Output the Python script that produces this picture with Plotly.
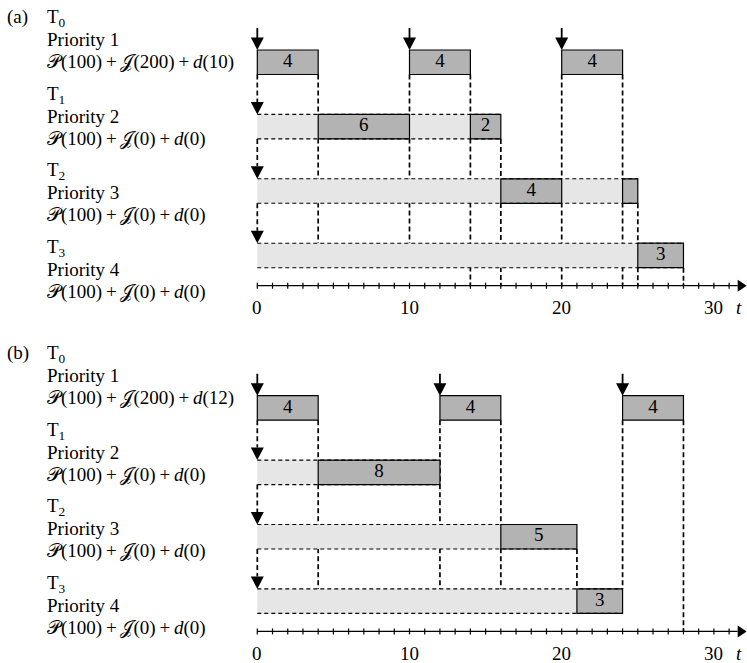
import plotly.graph_objects as go

# ---------------- task set ----------------
tasks = ["T0", "T1", "T2", "T3"]
priorities = [1, 2, 3, 4]
periods = [100, 100, 100, 100]
jitters = [200, 0, 0, 0]
deadlines_a = [10, 0, 0, 0]
deadlines_b = [12, 0, 0, 0]

# release instants of T0 (the other tasks are released at t = 0)
t0_releases_a = [0, 10, 20]
t0_releases_b = [0, 12, 24]

# execution intervals (start, end) of every task, scenario (a)
exec_a_t0 = [(0, 4), (10, 14), (20, 24)]
exec_a_t1 = [(4, 10), (14, 16)]
exec_a_t2 = [(16, 20), (24, 25)]
exec_a_t3 = [(25, 28)]

# execution intervals (start, end) of every task, scenario (b)
exec_b_t0 = [(0, 4), (12, 16), (24, 28)]
exec_b_t1 = [(4, 12)]
exec_b_t2 = [(16, 21)]
exec_b_t3 = [(21, 24)]

# dashed event guides: (time, row whose bar they leave, row they reach; 4 = time axis)
guides_a = [(4, 0, 3), (10, 0, 3), (14, 0, 4), (16, 1, 4),
            (20, 0, 4), (24, 0, 4), (25, 2, 4), (28, 3, 4)]
guides_b = [(4, 0, 3), (12, 0, 3), (16, 0, 3), (21, 2, 3),
            (24, 0, 3), (28, 0, 4)]

time_ticks = list(range(0, 32))
tick_labels = [0, 10, 20, 30]

# ---------------- geometry / style ----------------
W, H = 747, 663
PX_T = 15.22          # pixels per time unit
ORIGIN_PX = 257.3     # pixel column of t = 0
ROW_PX = 64.4         # pixels between two task rows
BAR = 24.5 / ROW_PX   # bar thickness in row units
AXIS_ROW = 3.66       # time axis position in row units
TOP_PX = 50.0         # distance from panel top to first bar
PANEL_PX = 317.3
ARROW_H = 12.5 / ROW_PX
ARROW_HW = 6.5 / PX_T

EXEC_FILL = "#b3b3b3"
WAIT_FILL = "#e6e6e6"
FONT = "Liberation Serif"
FS = 19

x_range = [-ORIGIN_PX / PX_T, (W - ORIGIN_PX) / PX_T]
y_range = [(PANEL_PX - TOP_PX) / ROW_PX, -TOP_PX / ROW_PX]

fig = go.Figure()
shapes = []
annotations = []


def add_panel(xa, ya, rows, releases, guides):
    xref, yref = xa, ya
    # dashed event guides (under the bars)
    for t, r_from, r_to in guides:
        y0 = r_from + BAR
        y1 = AXIS_ROW if r_to == 4 else r_to
        shapes.append(dict(type="line", layer="below", xref=xref, yref=yref,
                           x0=t, x1=t, y0=y0, y1=y1,
                           line=dict(color="black", width=1.7, dash="5px,3px")))
    # waiting (ready but not running) spans of lower priority tasks
    for k, segs in enumerate(rows):
        if k == 0:
            continue
        end = max(e for _, e in segs)
        fig.add_trace(go.Bar(orientation="h", y=[k + BAR / 2], x=[end], base=[0],
                             width=BAR, marker=dict(color=WAIT_FILL, line=dict(width=0)),
                             textposition="none",
                             xaxis=xa, yaxis=ya, hoverinfo="skip", showlegend=False))
        for yy in (k, k + BAR):
            shapes.append(dict(type="line", layer="above", xref=xref, yref=yref,
                               x0=0, x1=end, y0=yy, y1=yy,
                               line=dict(color="black", width=1.1, dash="4px,3px")))
        # dashed release arrow at t = 0
        shapes.append(dict(type="line", layer="below", xref=xref, yref=yref,
                           x0=0, x1=0, y0=k - 1 + BAR, y1=k - ARROW_H,
                           line=dict(color="black", width=1.7, dash="5px,3px")))
        shapes.append(dict(type="path", layer="above", xref=xref, yref=yref,
                           path=f"M{-ARROW_HW},{k - ARROW_H} L{ARROW_HW},{k - ARROW_H} L0,{k} Z",
                           fillcolor="black", line=dict(width=0)))
    # execution bars
    for k, segs in enumerate(rows):
        starts = [s for s, _ in segs]
        lens = [e - s for s, e in segs]
        fig.add_trace(go.Bar(orientation="h", y=[k + BAR / 2] * len(segs), x=lens, base=starts,
                             width=BAR, textposition="none",
                             marker=dict(color=EXEC_FILL, line=dict(color="black", width=1.2)),
                             xaxis=xa, yaxis=ya, hoverinfo="skip", showlegend=False))
        lab = [(s + e) / 2 for s, e in segs if e - s >= 2]
        txt = [str(e - s) for s, e in segs if e - s >= 2]
        fig.add_trace(go.Scatter(x=lab, y=[k + BAR / 2] * len(lab), text=txt, mode="text",
                                 textfont=dict(family=FONT, size=FS, color="black"),
                                 textposition="middle center",
                                 xaxis=xa, yaxis=ya, hoverinfo="skip", showlegend=False))
    # T0 release arrows
    for t in releases:
        shapes.append(dict(type="line", layer="above", xref=xref, yref=yref,
                           x0=t, x1=t, y0=-22 / ROW_PX, y1=-ARROW_H + 0.02,
                           line=dict(color="black", width=1.8)))
        shapes.append(dict(type="path", layer="above", xref=xref, yref=yref,
                           path=f"M{t - ARROW_HW},{-ARROW_H} L{t + ARROW_HW},{-ARROW_H} L{t},0 Z",
                           fillcolor="black", line=dict(width=0)))
    # time axis with ticks and arrow head
    tip = x_range[1] - 0.3 / PX_T
    base = tip - 9 / PX_T
    shapes.append(dict(type="line", layer="above", xref=xref, yref=yref,
                       x0=0, x1=base, y0=AXIS_ROW, y1=AXIS_ROW,
                       line=dict(color="black", width=1.3)))
    for t in time_ticks:
        shapes.append(dict(type="line", layer="above", xref=xref, yref=yref,
                           x0=t, x1=t, y0=AXIS_ROW - 3 / ROW_PX, y1=AXIS_ROW + 3 / ROW_PX,
                           line=dict(color="black", width=1.2)))
    hh = 6 / ROW_PX
    shapes.append(dict(type="path", layer="above", xref=xref, yref=yref,
                       path=f"M{base},{AXIS_ROW - hh} L{tip},{AXIS_ROW} L{base},{AXIS_ROW + hh} Z",
                       fillcolor="black", line=dict(width=0)))
    for t in tick_labels:
        annotations.append(dict(xref=xref, yref=yref, x=t, y=4.0, text=str(t),
                                showarrow=False, xanchor="center", yanchor="middle",
                                font=dict(family=FONT, size=FS, color="black")))
    annotations.append(dict(xref=xref, yref=yref, x=(739 - ORIGIN_PX) / PX_T, y=4.0,
                            text="<i>t</i>", showarrow=False, xanchor="center",
                            yanchor="middle", font=dict(family=FONT, size=FS, color="black")))


def add_text_column(tag, top_px, deadlines):
    def put(x_px, y_px, text):
        annotations.append(dict(xref="paper", yref="paper", x=x_px / W, y=1 - y_px / H,
                                text=text, showarrow=False, xanchor="left",
                                yanchor="middle",
                                font=dict(family=FONT, size=FS, color="black")))
    put(5, top_px, tag)
    for k, name in enumerate(tasks):
        y = top_px + 76.6 * k
        put(45, y + 1, f"{name[0]}<sub>{name[1:]}</sub>")
        put(45, y + 22.5, f"Priority {priorities[k]}")
        formula = (f"\U0001D4AB({periods[k]})\u2009+\u2009\U0001D4A5({jitters[k]})"
                   f"\u2009+\u2009<i>d</i>({deadlines[k]})")
        put(45, y + 45, formula)


add_panel("x", "y", [exec_a_t0, exec_a_t1, exec_a_t2, exec_a_t3], t0_releases_a, guides_a)
add_panel("x2", "y2", [exec_b_t0, exec_b_t1, exec_b_t2, exec_b_t3], t0_releases_b, guides_b)
add_text_column("(a)", 17, deadlines_a)
add_text_column("(b)", 353, deadlines_b)

axis_common = dict(visible=False, showgrid=False, zeroline=False, fixedrange=True)
fig.update_layout(
    width=W, height=H,
    margin=dict(l=0, r=0, t=0, b=0),
    paper_bgcolor="white", plot_bgcolor="white",
    barmode="overlay", showlegend=False,
    xaxis=dict(range=x_range, domain=[0, 1], anchor="y", **axis_common),
    xaxis2=dict(range=x_range, domain=[0, 1], anchor="y2", **axis_common),
    yaxis=dict(range=y_range, domain=[1 - PANEL_PX / H, 1], anchor="x", **axis_common),
    yaxis2=dict(range=y_range, domain=[0, 1 - (TOP_PX + 295.7) / H], anchor="x2", **axis_common),
    shapes=shapes,
    annotations=annotations,
)

fig.write_html("out.html")
